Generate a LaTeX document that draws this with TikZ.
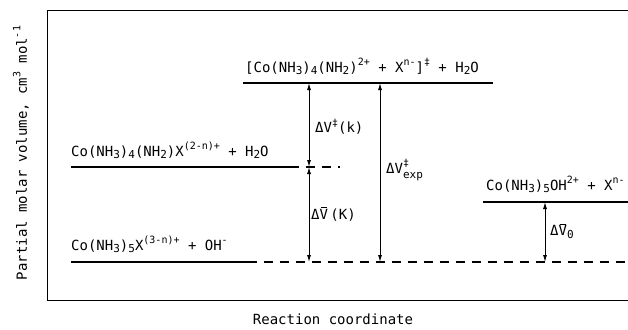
\documentclass[tikz,border=0pt]{standalone}
\usepackage{fontspec}
\setmainfont{DejaVu Sans Mono}
\usetikzlibrary{arrows.meta}

\newcommand{\sublo}[1]{\raisebox{-0.3ex}{\fontsize{11}{12}\selectfont #1}}
\newcommand{\suphi}[1]{\raisebox{0.85ex}{\fontsize{10}{12}\selectfont #1}}
\newcommand{\Vbar}{\leavevmode\ooalign{V\cr\hidewidth\raisebox{0.8em}{\rule{0.4em}{0.06em}}\hidewidth\cr}}

\begin{document}
\begin{tikzpicture}[x=1pt, y=-1pt,
		lab/.style={font=\fontsize{14}{16}\selectfont, inner sep=0pt, anchor=base west},
		level/.style={line width=1.2pt},
		guide/.style={line width=1.2pt, dash pattern=on 9pt off 7pt},
		dv/.style={{Latex[length=7pt,width=4pt]}-{Latex[length=7pt,width=4pt]}, line width=0.9pt},
		frame/.style={line width=0.9pt}
		]
		\useasboundingbox (0,0) rectangle (628,329);
		
		% ======================
		% Frame
		% ======================
		\coordinate (ftr) at (640,10);
		\coordinate (ftl) at (47,10);
		\coordinate (fbl) at (47,300);
		\coordinate (fbr) at (640,300);
		\draw[frame] (ftr) -- (ftl) -- (fbl) -- (fbr);
		
		% ======================
		% Levels
		% ======================
		\coordinate (ts0) at (243,83);
		\coordinate (ts1) at (493,83);
		\coordinate (im0) at (71,167);
		\coordinate (im1) at (290,167);
		\coordinate (im2) at (340,167);
		\coordinate (gs0) at (71,262);
		\coordinate (gs1) at (248,262);
		\coordinate (gs2) at (640,262);
		\coordinate (pr0) at (483,202);
		\coordinate (pr1) at (640,202);
		
		\draw[level] (ts0) -- (ts1);
		\draw[level] (im0) -- (im1);
		\draw[guide] (im1) -- (im2);
		\draw[level] (gs0) -- (gs1);
		\draw[guide] (gs1) -- (gs2);
		\draw[level] (pr0) -- (pr1);
		
		\node[lab] (tslab) at (245,72) {[Co(NH\sublo{3})\sublo{4}(NH\sublo{2})\suphi{2+} + X\suphi{n-}]\suphi{‡} + H\sublo{2}O};
		\node[lab] (imlab) at (71,156) {Co(NH\sublo{3})\sublo{4}(NH\sublo{2})X\suphi{(2-n)+} + H\sublo{2}O};
		\node[lab] (gslab) at (71,250) {Co(NH\sublo{3})\sublo{5}X\suphi{(3-n)+} + OH\suphi{-}};
		\node[lab] (prlab) at (486,190) {Co(NH\sublo{3})\sublo{5}OH\suphi{2+} + X\suphi{n-}};
		
		% ======================
		% Volume differences
		% ======================
		\coordinate (ka) at (309,83);
		\coordinate (kb) at (309,167);
		\coordinate (kc) at (309,262);
		\coordinate (ea) at (380,83);
		\coordinate (eb) at (380,262);
		\coordinate (oa) at (545,202);
		\coordinate (ob) at (545,262);
		
		\draw[dv] (ka) -- (kb);
		\draw[dv] (kb) -- (kc);
		\draw[dv] (ea) -- (eb);
		\draw[dv] (oa) -- (ob);
		
		\node[lab, anchor=west] (dvk) at (315,127) {ΔV\suphi{‡}(k)};
		\node[lab, anchor=west] (dvK) at (311,215) {Δ\Vbar\,(K)};
		\node[lab, anchor=west] (dvexp) at (386,170) {ΔV\rlap{\suphi{‡}}\raisebox{-0.6ex}{\fontsize{11}{12}\selectfont exp}};
		\node[lab, anchor=west] (dv0) at (550,232) {Δ\Vbar\sublo{0}};
		
		% ======================
		% Axes
		% ======================
		\node[lab, anchor=center, rotate=90] (ylab) at (21,153) {Partial molar volume, cm\suphi{3} mol\suphi{-1}};
		\node[lab, anchor=base] (xlab) at (333,324) {Reaction coordinate};
		
	\end{tikzpicture}
\end{document}
